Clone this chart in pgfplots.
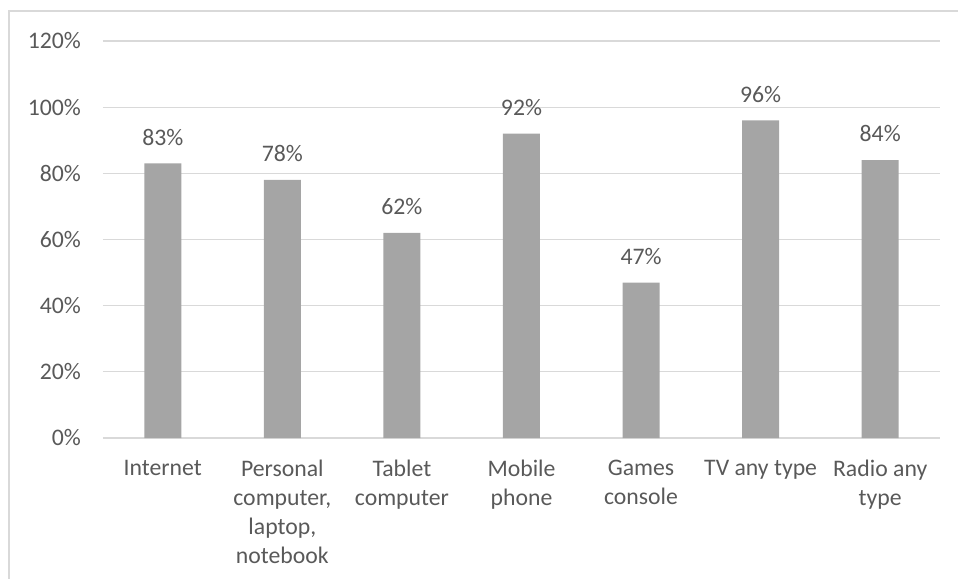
\documentclass[border=0pt]{standalone}
\usepackage{pgfplots}
\pgfplotsset{compat=1.18}
\usepackage{fontspec}
\setmainfont{Carlito}
\definecolor{barc}{HTML}{A5A5A5}
\definecolor{gridc}{HTML}{D9D9D9}
\definecolor{txt}{HTML}{595959}
\begin{document}
\begin{tikzpicture}
\useasboundingbox (-77.25pt,-105.75pt) rectangle (641.25pt,328.5pt);
\draw[gridc, line width=1pt] (-70.5pt,-120pt) -- (-70.5pt,320.25pt) -- (660pt,320.25pt);
\begin{axis}[
  at={(0,0)}, anchor=south west,
  scale only axis, width=627.75pt, height=297.75pt,
  xmin=-0.5, xmax=6.5, ymin=0, ymax=120,
  axis line style={draw=none},
  ymajorgrids, grid style={gridc, line width=0.9pt},
  major tick length=0pt,
  /pgf/number format/assume math mode=true,
  ytick={0,20,40,60,80,100,120},
  yticklabels={0\%,20\%,40\%,60\%,80\%,100\%,120\%},
  xtick={0,1,2,3,4,5,6},
  xticklabels={Internet,{Personal\\computer,\\laptop,\\notebook},{Tablet\\computer},{Mobile\\phone},{Games\\console},{TV any type},{Radio any\\type}},
  ticklabel style={font=\fontsize{17.8}{21.75}\selectfont, text=txt},
  yticklabel style={xshift=-13pt},
  xticklabel style={align=center, anchor=north, yshift=-13pt},
  ybar, bar width=27.75pt,
  nodes near coords={\pgfmathprintnumber{\pgfplotspointmeta}\%},
  every node near coord/.append style={font=\fontsize{17.8}{21.75}\selectfont, text=txt, yshift=10pt},
]
\addplot[fill=barc, draw=none] coordinates {(0,83) (1,78) (2,62) (3,92) (4,47) (5,96) (6,84)};
\end{axis}
\end{tikzpicture}
\end{document}
